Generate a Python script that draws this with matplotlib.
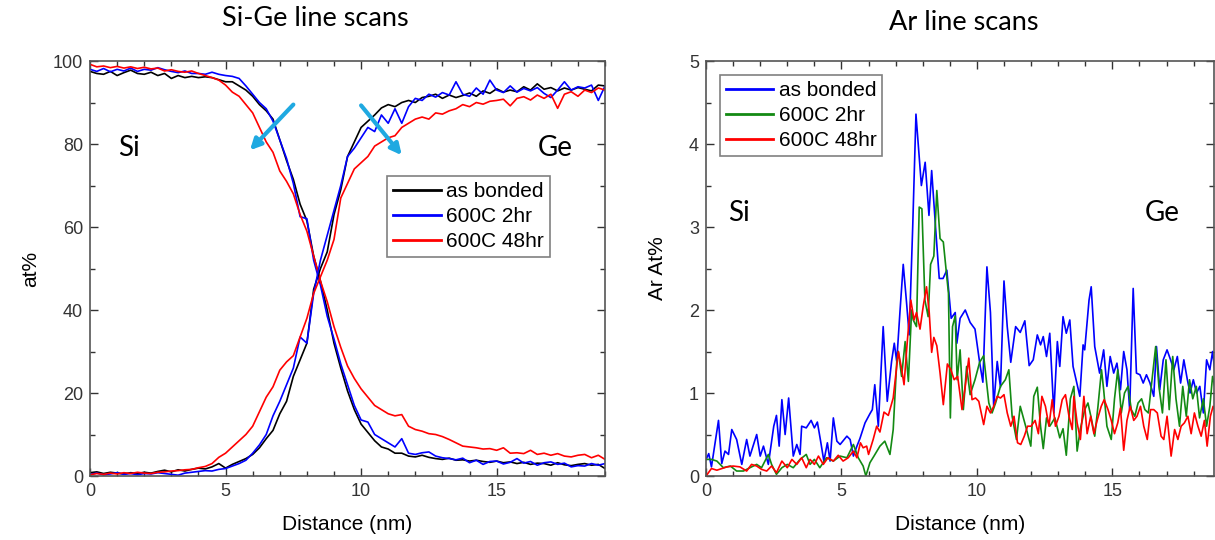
import numpy as np
import matplotlib
matplotlib.use("Agg")
import matplotlib.pyplot as plt
from matplotlib.ticker import MultipleLocator

plt.rcParams['font.family'] = ['Liberation Sans', 'DejaVu Sans']

# ---- Si-Ge line scans (0.25 nm grid, 0..19 nm) ----
dist = np.arange(0, 19.001, 0.25)

si_bonded = [97.5, 97.0, 96.8, 97.5, 96.5, 97.2, 97.8, 97.0,
             96.8, 97.3, 96.5, 97.0, 95.8, 96.5, 96.0, 96.3,
             96.0, 96.2, 96.0, 95.5, 95.0, 95.0, 94.0, 93.0,
             91.5, 89.5, 88.0, 86.0, 81.0, 76.0, 71.5, 65.5,
             61.5, 53.0, 47.0, 40.0, 32.0, 26.0, 20.5, 16.0,
             12.5, 10.5, 8.5, 7.0, 6.5, 5.5, 5.5, 4.8,
             4.6, 5.0, 4.5, 4.2, 4.0, 4.3, 3.8, 3.9,
             3.6, 3.8, 3.5, 3.3, 3.6, 3.2, 3.4, 3.0,
             3.3, 2.8, 3.1, 3.0, 2.6, 3.2, 2.7, 2.5,
             2.8, 3.0, 2.6, 2.8, 1.8]
si_2hr = [98.0, 97.5, 98.2, 97.4, 98.0, 97.6, 98.3, 97.5,
          98.0, 97.8, 98.4, 97.9, 97.5, 97.2, 97.6, 97.0,
          97.0, 96.8, 97.3, 96.8, 96.5, 96.3, 95.8, 94.0,
          92.0, 90.0, 88.5, 85.5, 81.0, 76.5, 70.5, 62.5,
          62.0, 52.0, 46.0, 38.5, 33.0, 27.0, 22.0, 17.0,
          13.5, 13.0, 10.0, 9.0, 8.0, 7.0, 9.0, 5.5,
          5.2, 5.6, 5.8, 4.8, 4.4, 4.2, 3.9, 4.3,
          3.2, 3.8, 2.8, 3.5, 3.6, 2.9, 3.3, 4.2,
          3.1, 3.5, 2.6, 3.2, 3.4, 2.8, 3.1, 2.2,
          2.5, 2.4, 3.0, 2.6, 3.0]
si_48hr = [99.2, 98.6, 98.8, 98.4, 98.7, 98.3, 98.6, 98.2,
           98.5, 98.1, 98.3, 97.6, 97.9, 97.5, 97.3, 97.6,
           97.0, 96.5, 96.0, 95.4, 94.2, 92.5, 91.5, 89.5,
           87.5, 84.0, 80.5, 78.0, 73.5, 71.0, 68.0, 63.0,
           59.0, 53.0, 47.0, 42.0, 36.0, 31.0, 26.5, 23.5,
           21.0, 19.0, 17.0, 16.0, 15.0, 14.5, 14.8, 12.0,
           11.2, 10.8, 10.2, 10.0, 9.5, 8.8, 8.0, 7.2,
           7.0, 6.8, 6.5, 6.6, 6.2, 6.8, 5.5, 5.6,
           5.4, 6.2, 5.2, 5.5, 5.0, 5.4, 4.8, 4.6,
           5.0, 5.2, 4.4, 5.0, 4.0]
ge_bonded = [0.8, 1.0, 0.6, 0.9, 0.7, 0.5, 0.8, 0.6,
             0.9, 0.7, 1.1, 1.4, 1.0, 1.5, 1.2, 1.6,
             1.9, 1.7, 2.2, 3.0, 1.9, 2.8, 3.5, 4.2,
             5.2, 6.8, 9.0, 11.0, 15.0, 18.0, 24.0, 28.0,
             32.0, 45.0, 50.0, 54.0, 63.0, 69.0, 77.0, 80.5,
             84.0, 85.5, 87.0, 88.7, 89.5, 89.0, 90.0, 90.5,
             90.0, 91.2, 91.5, 92.0, 91.0, 91.8, 91.2, 91.7,
             92.3, 91.5, 92.8, 92.2, 93.3, 92.5, 93.0, 92.6,
             93.8, 93.0, 94.5, 93.2, 93.6, 92.8, 93.5, 93.0,
             93.6, 93.2, 92.8, 94.2, 94.0]
ge_2hr = [0.4, 0.7, 0.3, 0.5, 0.8, 0.4, 0.6, 0.3,
          0.6, 0.5, 0.8, 0.6, 0.4, 0.2, 0.7, 0.9,
          1.1, 1.3, 1.2, 1.6, 1.8, 2.4, 3.0, 3.8,
          5.5, 7.5, 10.0, 14.5, 18.0, 22.0, 26.0, 33.5,
          32.0, 44.0, 52.0, 58.0, 64.0, 70.0, 77.0, 79.0,
          81.5, 84.0, 83.0, 87.0, 85.0, 88.5, 85.0, 89.0,
          91.0, 90.5, 92.0, 91.3, 92.4, 91.8, 95.0, 92.0,
          91.5, 93.5, 92.0, 95.4, 93.0, 92.4, 94.0, 92.5,
          93.4, 92.8, 93.6, 92.2, 91.2, 93.0, 95.0, 93.0,
          93.8, 93.5, 94.2, 90.5, 94.0]
ge_48hr = [0.3, 0.6, 0.4, 0.7, 0.5, 0.8, 0.6, 0.9,
           0.7, 0.6, 0.9, 1.0, 1.2, 1.3, 1.5, 1.6,
           2.0, 2.3, 3.0, 4.5, 5.5, 7.0, 8.5, 10.0,
           12.0, 15.5, 19.0, 21.5, 25.5, 27.5, 29.0, 33.5,
           38.0, 44.0, 48.0, 52.0, 57.0, 67.0, 70.5, 74.0,
           75.5, 77.0, 79.5, 80.5, 81.5, 82.0, 84.0, 85.0,
           86.0, 86.5, 86.0, 87.5, 87.2, 88.0, 88.5, 89.5,
           89.0, 90.0, 89.6, 90.3, 90.5, 90.8, 89.2, 91.0,
           91.4, 90.6, 91.8, 91.0, 92.0, 88.6, 92.0, 92.6,
           91.5, 93.0, 92.4, 93.5, 93.0]

# ---- Ar line scans: (distance nm, Ar at%) ----
ar_bonded = [(0.0, 0.2), (0.1, 0.27), (0.2, 0.11), (0.46, 0.67), (0.58, 0.15), (0.7, 0.3),
             (0.83, 0.26), (0.95, 0.56), (1.13, 0.44), (1.32, 0.14), (1.5, 0.44), (1.62, 0.24),
             (1.87, 0.5), (2.0, 0.24), (2.12, 0.36), (2.3, 0.14), (2.5, 0.6), (2.6, 0.73),
             (2.7, 0.36), (2.8, 0.92), (2.92, 0.5), (3.05, 0.94), (3.22, 0.24), (3.35, 0.38),
             (3.47, 0.26), (3.53, 0.6), (3.7, 0.58), (3.88, 0.67), (4.0, 0.58), (4.11, 0.65),
             (4.23, 0.42), (4.35, 0.18), (4.48, 0.4), (4.58, 0.18), (4.7, 0.7), (4.83, 0.42),
             (4.95, 0.38), (5.2, 0.48), (5.32, 0.44), (5.44, 0.24), (5.57, 0.36), (5.68, 0.45),
             (5.87, 0.64), (6.05, 0.75), (6.14, 0.8), (6.23, 1.1), (6.36, 0.6), (6.54, 1.8),
             (6.69, 0.9), (6.85, 1.38), (6.95, 1.6), (7.04, 1.38), (7.16, 1.98), (7.28, 2.55),
             (7.4, 2.1), (7.5, 1.7), (7.63, 3.0), (7.75, 4.36), (7.95, 3.5), (8.09, 3.78),
             (8.23, 3.14), (8.33, 3.68), (8.49, 2.92), (8.61, 2.38), (8.75, 2.38), (8.89, 2.48),
             (9.05, 1.9), (9.2, 1.97), (9.26, 1.6), (9.38, 1.9), (9.57, 2.0), (9.75, 1.85),
             (9.93, 1.77), (10.1, 1.37), (10.22, 1.13), (10.37, 2.52), (10.5, 1.97), (10.62, 0.84),
             (10.75, 1.38), (10.87, 1.07), (11.0, 2.35), (11.12, 1.8), (11.25, 1.37), (11.43, 1.8),
             (11.6, 1.73), (11.77, 1.87), (11.93, 1.33), (12.08, 1.4), (12.23, 1.7), (12.35, 1.58),
             (12.45, 1.68), (12.57, 1.44), (12.69, 1.72), (12.84, 0.76), (12.97, 1.62), (13.06, 1.32),
             (13.18, 1.92), (13.3, 1.72), (13.43, 1.88), (13.55, 1.32), (13.8, 0.96), (13.92, 1.58),
             (13.98, 1.52), (14.14, 2.12), (14.22, 2.28), (14.35, 1.56), (14.53, 1.24), (14.68, 1.52),
             (14.8, 1.08), (14.92, 1.44), (15.05, 1.24), (15.17, 1.36), (15.3, 1.04), (15.42, 1.5),
             (15.54, 1.28), (15.64, 0.8), (15.77, 2.26), (15.89, 1.24), (16.02, 1.22), (16.14, 1.12),
             (16.26, 1.22), (16.39, 1.12), (16.53, 0.96), (16.63, 1.56), (16.75, 1.04), (16.88, 1.4),
             (17.02, 1.52), (17.15, 1.4), (17.27, 1.28), (17.4, 1.44), (17.52, 1.12), (17.64, 1.4),
             (17.77, 1.16), (17.87, 1.0), (17.99, 1.16), (18.11, 1.0), (18.23, 1.08), (18.36, 0.76),
             (18.48, 1.4), (18.6, 1.28), (18.7, 1.5), (18.78, 1.28)]
ar_2hr = [(0.0, 0.2), (0.2, 0.2), (0.4, 0.18), (0.64, 0.1), (0.9, 0.12), (1.13, 0.06),
          (1.38, 0.06), (1.62, 0.1), (1.87, 0.14), (2.05, 0.1), (2.3, 0.26), (2.42, 0.14),
          (2.6, 0.02), (2.8, 0.1), (3.0, 0.14), (3.22, 0.1), (3.47, 0.2), (3.7, 0.26),
          (3.84, 0.14), (4.0, 0.2), (4.2, 0.1), (4.45, 0.22), (4.7, 0.18), (4.95, 0.24),
          (5.2, 0.22), (5.44, 0.38), (5.62, 0.22), (5.8, 0.12), (5.9, 0.0), (6.05, 0.16),
          (6.2, 0.24), (6.42, 0.36), (6.6, 0.42), (6.79, 0.26), (6.91, 0.56), (7.04, 1.37),
          (7.1, 1.5), (7.22, 1.2), (7.35, 1.62), (7.47, 1.14), (7.59, 2.0), (7.65, 1.88),
          (7.77, 1.8), (7.87, 3.24), (7.97, 3.22), (8.08, 2.12), (8.2, 1.92), (8.29, 2.55),
          (8.41, 2.65), (8.52, 3.44), (8.64, 2.86), (8.76, 2.82), (8.86, 2.5), (8.95, 2.2),
          (9.02, 0.7), (9.1, 1.8), (9.2, 1.93), (9.27, 1.16), (9.38, 1.52), (9.5, 0.8),
          (9.62, 1.32), (9.75, 0.98), (9.93, 1.16), (10.1, 1.37), (10.25, 1.45), (10.44, 0.88),
          (10.56, 0.76), (10.69, 0.88), (10.87, 1.08), (11.05, 1.16), (11.18, 1.28), (11.3, 0.72),
          (11.46, 0.44), (11.6, 0.84), (11.8, 0.6), (11.99, 0.36), (12.1, 0.96), (12.23, 1.07),
          (12.35, 0.6), (12.45, 0.33), (12.57, 0.7), (12.69, 0.6), (12.88, 0.7), (13.06, 0.46),
          (13.18, 0.57), (13.3, 0.25), (13.45, 0.93), (13.58, 1.08), (13.7, 0.3), (13.82, 0.57),
          (13.98, 0.8), (14.1, 0.88), (14.22, 0.7), (14.35, 0.48), (14.47, 0.84), (14.6, 1.28),
          (14.68, 1.04), (14.8, 0.6), (14.96, 0.44), (15.08, 0.93), (15.2, 1.28), (15.33, 0.76),
          (15.45, 1.0), (15.58, 1.08), (15.7, 0.8), (15.83, 0.72), (15.95, 0.88), (16.08, 0.93),
          (16.2, 0.8), (16.33, 0.76), (16.45, 1.12), (16.6, 1.56), (16.72, 1.08), (16.85, 0.76),
          (16.98, 1.4), (17.1, 0.8), (17.23, 1.44), (17.35, 0.93), (17.48, 0.6), (17.6, 1.08),
          (17.73, 0.72), (17.85, 1.16), (17.97, 0.93), (18.1, 1.08), (18.22, 0.7), (18.36, 0.93),
          (18.48, 0.6), (18.6, 0.84), (18.7, 1.2), (18.78, 1.08)]
ar_48hr = [(0.0, 0.0), (0.2, 0.09), (0.4, 0.07), (0.58, 0.09), (0.77, 0.11), (1.0, 0.12),
           (1.25, 0.11), (1.5, 0.06), (1.68, 0.14), (1.87, 0.12), (2.05, 0.08), (2.24, 0.06),
           (2.42, 0.12), (2.6, 0.04), (2.8, 0.18), (3.0, 0.1), (3.17, 0.2), (3.35, 0.14),
           (3.53, 0.22), (3.7, 0.1), (3.84, 0.2), (4.0, 0.14), (4.15, 0.24), (4.33, 0.14),
           (4.5, 0.22), (4.7, 0.18), (4.88, 0.25), (5.06, 0.18), (5.25, 0.22), (5.44, 0.3),
           (5.57, 0.22), (5.7, 0.4), (5.8, 0.34), (5.93, 0.36), (6.0, 0.26), (6.17, 0.44),
           (6.3, 0.6), (6.42, 0.53), (6.57, 0.77), (6.73, 0.73), (6.91, 0.94), (7.1, 1.5),
           (7.22, 1.29), (7.31, 1.1), (7.43, 1.62), (7.56, 2.12), (7.68, 1.88), (7.77, 1.97),
           (7.9, 1.77), (8.02, 2.05), (8.14, 2.28), (8.24, 1.97), (8.33, 1.49), (8.41, 1.67),
           (8.52, 1.57), (8.64, 1.24), (8.76, 0.86), (8.91, 1.35), (9.04, 1.28), (9.16, 1.16),
           (9.29, 1.2), (9.45, 0.8), (9.57, 1.08), (9.7, 1.42), (9.82, 0.92), (9.95, 0.94),
           (10.07, 0.9), (10.25, 0.62), (10.37, 0.84), (10.5, 0.76), (10.62, 0.84), (10.75, 0.96),
           (10.87, 0.94), (11.0, 0.98), (11.12, 0.76), (11.25, 0.6), (11.37, 0.72), (11.5, 0.4),
           (11.62, 0.38), (11.75, 0.48), (11.87, 0.6), (12.0, 0.6), (12.15, 0.67), (12.27, 0.51),
           (12.4, 0.96), (12.53, 0.84), (12.66, 0.6), (12.78, 0.92), (12.9, 0.6), (13.03, 0.72),
           (13.15, 0.92), (13.27, 0.98), (13.4, 0.72), (13.52, 0.56), (13.58, 0.96), (13.7, 0.64),
           (13.82, 0.44), (13.95, 0.96), (14.07, 0.51), (14.2, 0.72), (14.32, 0.51), (14.44, 0.67),
           (14.59, 0.84), (14.7, 0.92), (14.84, 0.8), (14.96, 0.67), (15.08, 0.51), (15.2, 0.64),
           (15.3, 0.82), (15.42, 0.31), (15.54, 0.67), (15.66, 0.84), (15.79, 0.67), (15.91, 0.72),
           (16.04, 0.84), (16.16, 0.6), (16.29, 0.44), (16.41, 0.8), (16.53, 0.8), (16.66, 0.76),
           (16.8, 0.48), (16.9, 0.44), (17.02, 0.72), (17.17, 0.24), (17.3, 0.56), (17.42, 0.44),
           (17.54, 0.6), (17.66, 0.64), (17.79, 0.72), (17.91, 0.51), (18.03, 0.76), (18.16, 0.6),
           (18.28, 0.48), (18.4, 0.67), (18.5, 0.36), (18.62, 0.72), (18.72, 0.84), (18.78, 0.8)]

labels = ["as bonded", "600C 2hr", "600C 48hr"]

# colours
schwarz = "#000000"
blau = "#0000ff"
rot = "#ff0000"
gruen = "#138a13"
cyan = "#1fa9e1"
tickgrau = "#333333"

lw = 1.2
titlefont = ["Lato", "DejaVu Sans"]
fig = plt.figure(figsize=(12.15, 5.4), dpi=100)
ax1 = fig.add_axes([0.0741, 0.1185, 0.4239, 0.7685])
ax2 = fig.add_axes([0.5811, 0.1185, 0.4180, 0.7685])

def style(ax):
    ax.tick_params(which="both", direction="in", top=True, right=True,
                   labelsize=13, colors=tickgrau, labelcolor=tickgrau)
    ax.tick_params(which="major", length=6, width=1, pad=5)
    ax.tick_params(which="minor", length=3.5, width=1)
    for s in ax.spines.values():
        s.set_color("#555555")
        s.set_linewidth(1.2)

def legend(ax, anchor):
    leg = ax.legend(loc="upper left", bbox_to_anchor=anchor, borderaxespad=0,
                    fontsize=15, handlelength=2.3, handletextpad=0.25, labelspacing=0.3,
                    borderpad=0.28, fancybox=False, framealpha=1, edgecolor="#808080")
    leg.get_frame().set_linewidth(1.2)
    for h in leg.get_lines():
        h.set_linewidth(2)

# left panel
ax1.plot(dist, si_bonded, color=schwarz, lw=lw, label=labels[0])
ax1.plot(dist, si_2hr, color=blau, lw=lw, label=labels[1])
ax1.plot(dist, si_48hr, color=rot, lw=lw, label=labels[2])
ax1.plot(dist, ge_bonded, color=schwarz, lw=lw)
ax1.plot(dist, ge_2hr, color=blau, lw=lw)
ax1.plot(dist, ge_48hr, color=rot, lw=lw)
ax1.set_xlim(0, 19)
ax1.set_ylim(0, 100)
ax1.xaxis.set_major_locator(MultipleLocator(5))
ax1.xaxis.set_minor_locator(MultipleLocator(1))
ax1.yaxis.set_major_locator(MultipleLocator(20))
ax1.yaxis.set_minor_locator(MultipleLocator(10))
style(ax1)
ax1.set_xlabel("Distance (nm)", fontsize=15, labelpad=11)
ax1.set_ylabel("at%", fontsize=15, labelpad=9)
fig.text(315 / 1215, 1 - 18 / 540, "Si-Ge line scans", fontsize=19.5, family=titlefont,
         ha="center", va="center")
ax1.text(1.05, 79, "Si", fontsize=20, va="center", family=titlefont)
ax1.text(16.5, 79, "Ge", fontsize=20, va="center", family=titlefont)
arrow = dict(arrowstyle="-|>", color=cyan, lw=3, mutation_scale=16, shrinkA=0, shrinkB=0)
ax1.annotate("", xy=(5.9, 78.5), xytext=(7.5, 89.5), arrowprops=arrow)
ax1.annotate("", xy=(11.5, 77.3), xytext=(10.0, 89.3), arrowprops=arrow)
legend(ax1, (0.577, 0.723))

# right panel
for data, col, lab in [(ar_bonded, blau, labels[0]), (ar_2hr, gruen, labels[1]),
                       (ar_48hr, rot, labels[2])]:
    x, y = np.array(data).T
    ax2.plot(x, y, color=col, lw=lw, label=lab)
ax2.set_xlim(0, 18.75)
ax2.set_ylim(0, 5)
ax2.xaxis.set_major_locator(MultipleLocator(5))
ax2.xaxis.set_minor_locator(MultipleLocator(1))
ax2.yaxis.set_major_locator(MultipleLocator(1))
ax2.yaxis.set_minor_locator(MultipleLocator(0.5))
style(ax2)
ax2.set_xlabel("Distance (nm)", fontsize=15, labelpad=11)
ax2.set_ylabel("Ar At%", fontsize=15, labelpad=16)
fig.text(964 / 1215, 1 - 22 / 540, "Ar line scans", fontsize=19.5, family=titlefont,
         ha="center", va="center")
ax2.text(0.8, 3.17, "Si", fontsize=20, va="center", family=titlefont)
ax2.text(16.2, 3.17, "Ge", fontsize=20, va="center", family=titlefont)
legend(ax2, (0.027, 0.966))

fig.savefig("out.png", dpi=100)
